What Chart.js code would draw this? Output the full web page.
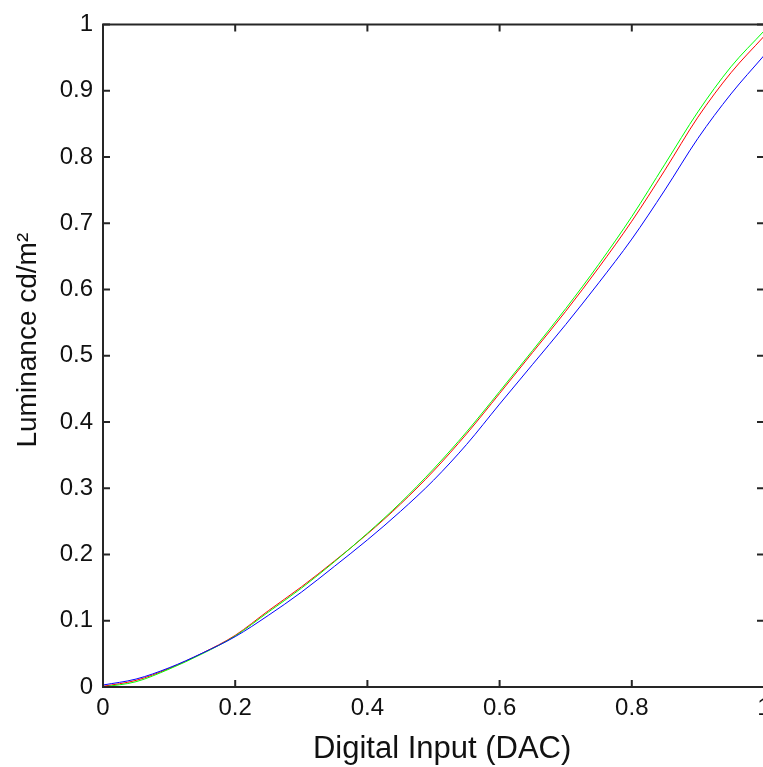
<!DOCTYPE html>
<html><head><meta charset="utf-8">
<script src="https://cdn.jsdelivr.net/npm/chart.js@4"></script>
<style>
html,body{margin:0;padding:0;overflow:hidden;background:#fff;width:763px;height:767px}
#wrap{position:absolute;left:0;top:0;width:780px;height:767px}
</style>
</head><body><div id="wrap"><canvas id="c"></canvas></div>
<script>
const xValues     = [0, 0.05, 0.1, 0.15, 0.2, 0.25, 0.3, 0.35, 0.4, 0.45, 0.5, 0.55, 0.6, 0.65, 0.7, 0.75, 0.8, 0.85, 0.9, 0.95, 1.0];
const redValues   = [0.001, 0.010, 0.028, 0.051, 0.078, 0.115, 0.151, 0.190, 0.231, 0.276, 0.326, 0.382, 0.443, 0.505, 0.567, 0.633, 0.703, 0.780, 0.860, 0.927, 0.982];
const greenValues = [0.000, 0.008, 0.027, 0.050, 0.077, 0.113, 0.149, 0.189, 0.232, 0.278, 0.329, 0.385, 0.446, 0.508, 0.571, 0.638, 0.710, 0.789, 0.868, 0.936, 0.990];
const blueValues  = [0.003, 0.012, 0.029, 0.051, 0.076, 0.108, 0.143, 0.182, 0.222, 0.265, 0.312, 0.366, 0.427, 0.487, 0.547, 0.610, 0.676, 0.750, 0.828, 0.895, 0.953];
const xTicks = [0, 0.2, 0.4, 0.6, 0.8, 1];
const yTicks = [0, 0.1, 0.2, 0.3, 0.4, 0.5, 0.6, 0.7, 0.8, 0.9, 1];
const xTitle = 'Digital Input (DAC)';
const yTitle = 'Luminance cd/m\u00B2';

const FONT = '"Liberation Sans", Arial, Helvetica, sans-serif';
const INK = '#111111';

const boxPlugin = {
  id: 'matlabBox',
  afterDatasetsDraw(chart) {
    const {ctx, chartArea: a, scales: {x, y}} = chart;
    ctx.save();
    ctx.strokeStyle = '#262626';
    ctx.lineWidth = 2;
    ctx.beginPath();
    ctx.rect(a.left, a.top, a.right - a.left, a.bottom - a.top);
    ctx.stroke();
    const tl = 7;
    ctx.beginPath();
    x.ticks.forEach(t => {
      const px = x.getPixelForValue(t.value);
      ctx.moveTo(px, a.bottom); ctx.lineTo(px, a.bottom - tl);
      ctx.moveTo(px, a.top); ctx.lineTo(px, a.top + tl);
    });
    y.ticks.forEach(t => {
      const py = y.getPixelForValue(t.value);
      ctx.moveTo(a.left, py); ctx.lineTo(a.left + tl, py);
      ctx.moveTo(a.right, py); ctx.lineTo(a.right - tl, py);
    });
    ctx.stroke();
    ctx.restore();
  }
};

const mk = vals => xValues.map((x, i) => ({x, y: vals[i]}));
const lineStyle = {borderWidth: 1, pointRadius: 0, cubicInterpolationMode: 'monotone', fill: false};

new Chart(document.getElementById('c'), {
  type: 'line',
  data: {
    datasets: [
      Object.assign({label: 'Blue', data: mk(blueValues), borderColor: '#0000ff'}, lineStyle),
      Object.assign({label: 'Green', data: mk(greenValues), borderColor: '#00ff00'}, lineStyle),
      Object.assign({label: 'Red', data: mk(redValues), borderColor: '#ff0000'}, lineStyle)
    ]
  },
  options: {
    responsive: true,
    maintainAspectRatio: false,
    animation: false,
    events: [],
    layout: {padding: {top: 21, right: 16, bottom: 0, left: 0}},
    plugins: {legend: {display: false}, tooltip: {enabled: false}, title: {display: false}},
    scales: {
      x: {
        type: 'linear', min: 0, max: 1,
        afterBuildTicks: s => { s.ticks = xTicks.map(v => ({value: v})); },
        afterFit: s => { s.height = 80; },
        grid: {display: false, drawTicks: false},
        border: {display: false},
        ticks: {padding: 7, autoSkip: false, maxRotation: 0, color: INK, font: {family: FONT, size: 24}, callback: v => String(v)},
        title: {display: true, text: '  ' + xTitle, color: INK, font: {family: FONT, size: 31}, padding: {top: 0, bottom: -1}}
      },
      y: {
        type: 'linear', min: 0, max: 1,
        afterBuildTicks: s => { s.ticks = yTicks.map(v => ({value: v})); },
        afterFit: s => { s.width = 103; },
        grid: {display: false, drawTicks: false},
        border: {display: false},
        ticks: {padding: 10, autoSkip: false, color: INK, font: {family: FONT, size: 24}, callback: v => String(v)},
        title: {display: true, text: '    ' + yTitle, color: INK, font: {family: FONT, size: 28}, padding: {top: 11, bottom: 0}}
      }
    }
  },
  plugins: [boxPlugin]
});
</script>
</body></html>
